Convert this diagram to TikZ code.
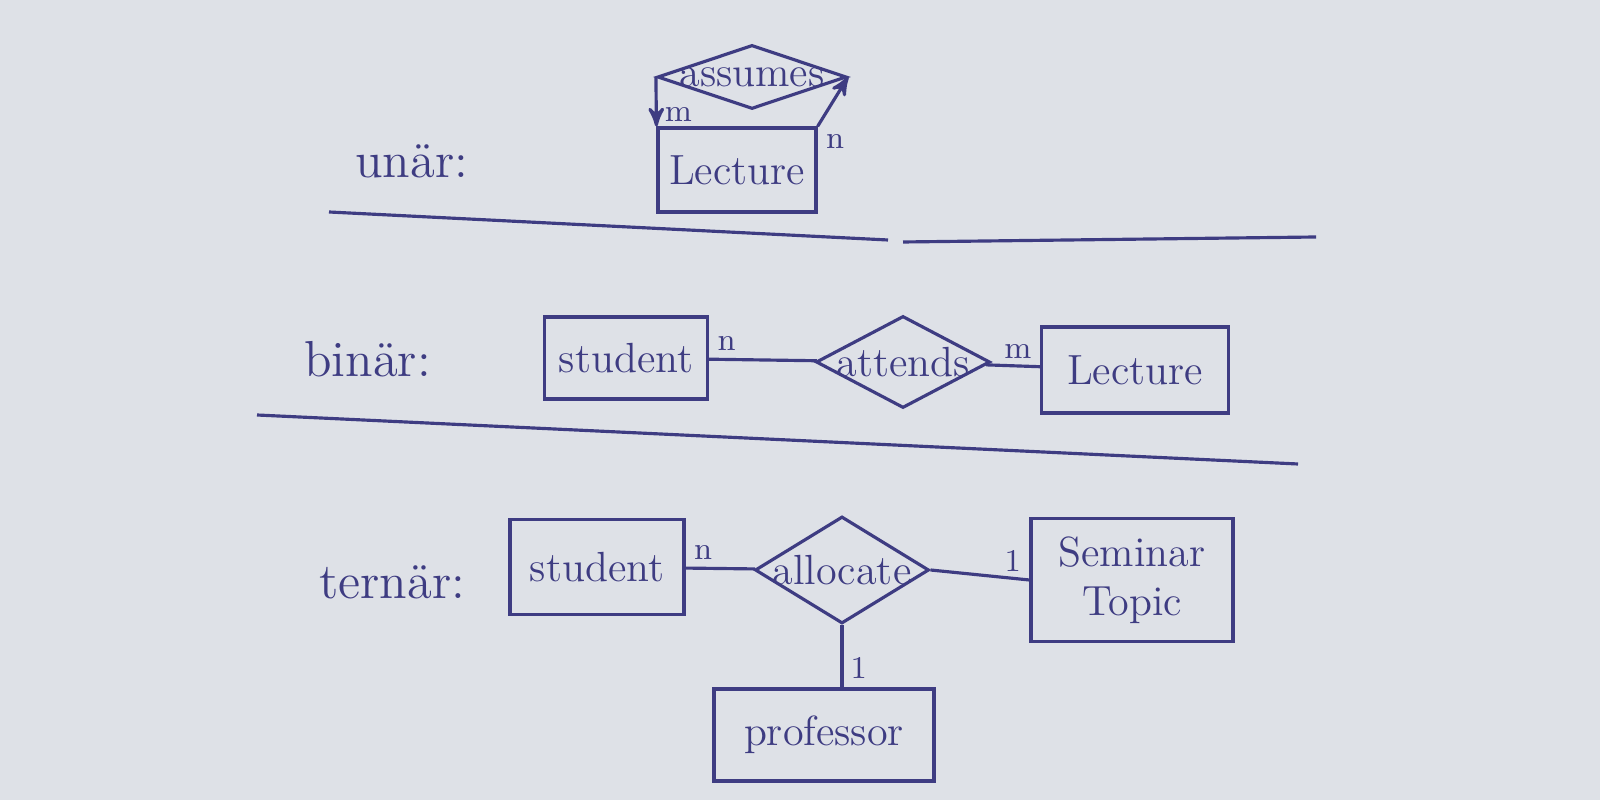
\documentclass[tikz,border=0pt]{standalone}
\usepackage{amsmath,amssymb}
\usepackage{xcolor}
\usepackage{tikz}
\usetikzlibrary{positioning,arrows,calc,shapes.geometric}

\definecolor{ink}{RGB}{62,60,130}
\definecolor{paper}{RGB}{222,225,231}
\newcommand{\rtext}[1]{\makebox[0pt]{#1}}

\begin{document}
\begin{tikzpicture}[
  ent/.style={draw,align=center,font=\large,inner sep=2pt},
  rel/.style={draw,diamond,inner sep=0pt,font=\large},
  card/.style={font=\small,inner sep=2pt},
  kind/.style={font=\Large,anchor=west},
  color=ink, line width=0.9pt,
  >=stealth']

\useasboundingbox (0,0) rectangle (16,8);
\fill[paper] (0,0) rectangle (16,8);

% unaer
\node[kind] (k1) at (3.42,6.39) {unär:};
\node[ent,minimum width=1.58cm,minimum height=0.84cm] (lec1) at (7.37,6.30) {Lecture};
\node[rel,minimum width=1.89cm,minimum height=0.64cm] (assumes) at (7.52,7.23) {\rtext{assumes}};
\draw[->] (assumes.west) -- node[card,pos=0.75,right]{m} (lec1.north west);
\draw[->] (lec1.north east) -- node[card,at start,anchor=north west]{n} (assumes.east);

\draw (3.29,5.88) -- (8.88,5.60);
\draw (9.03,5.58) -- (13.16,5.63);

% binaer
\node[kind] (k2) at (2.91,4.41) {binär:};
\node[ent,minimum width=1.63cm,minimum height=0.82cm] (stud1) at (6.26,4.42) {student};
\node[rel,minimum width=1.74cm,minimum height=0.92cm] (attends) at (9.03,4.38) {\rtext{attends}};
\node[ent,minimum width=1.87cm,minimum height=0.86cm] (lec2) at (11.35,4.30) {Lecture};
\draw (stud1) -- node[card,at start,above right]{n} (attends);
\draw (attends) -- node[card,at end,above left]{m} (lec2);

\draw (2.57,3.85) -- (12.98,3.36);

% ternaer
\node[kind] (k3) at (3.06,2.18) {ternär:};
\node[ent,minimum width=1.74cm,minimum height=0.95cm] (stud2) at (5.97,2.33) {student};
\node[rel,minimum width=1.74cm,minimum height=1.07cm] (allocate) at (8.42,2.30) {\rtext{allocate}};
\node[ent,minimum width=2.02cm,minimum height=1.23cm] (topic) at (11.32,2.20) {Seminar\\Topic};
\node[ent,minimum width=2.20cm,minimum height=0.92cm] (prof) at (8.24,0.65) {professor};
\draw (stud2) -- node[card,at start,above right]{n} (allocate);
\draw (allocate.east) -- node[card,at end,above left]{1} (topic.west);
\draw (allocate.south) -- node[card,at end,above right]{1} (allocate.south |- prof.north);
\end{tikzpicture}
\end{document}
